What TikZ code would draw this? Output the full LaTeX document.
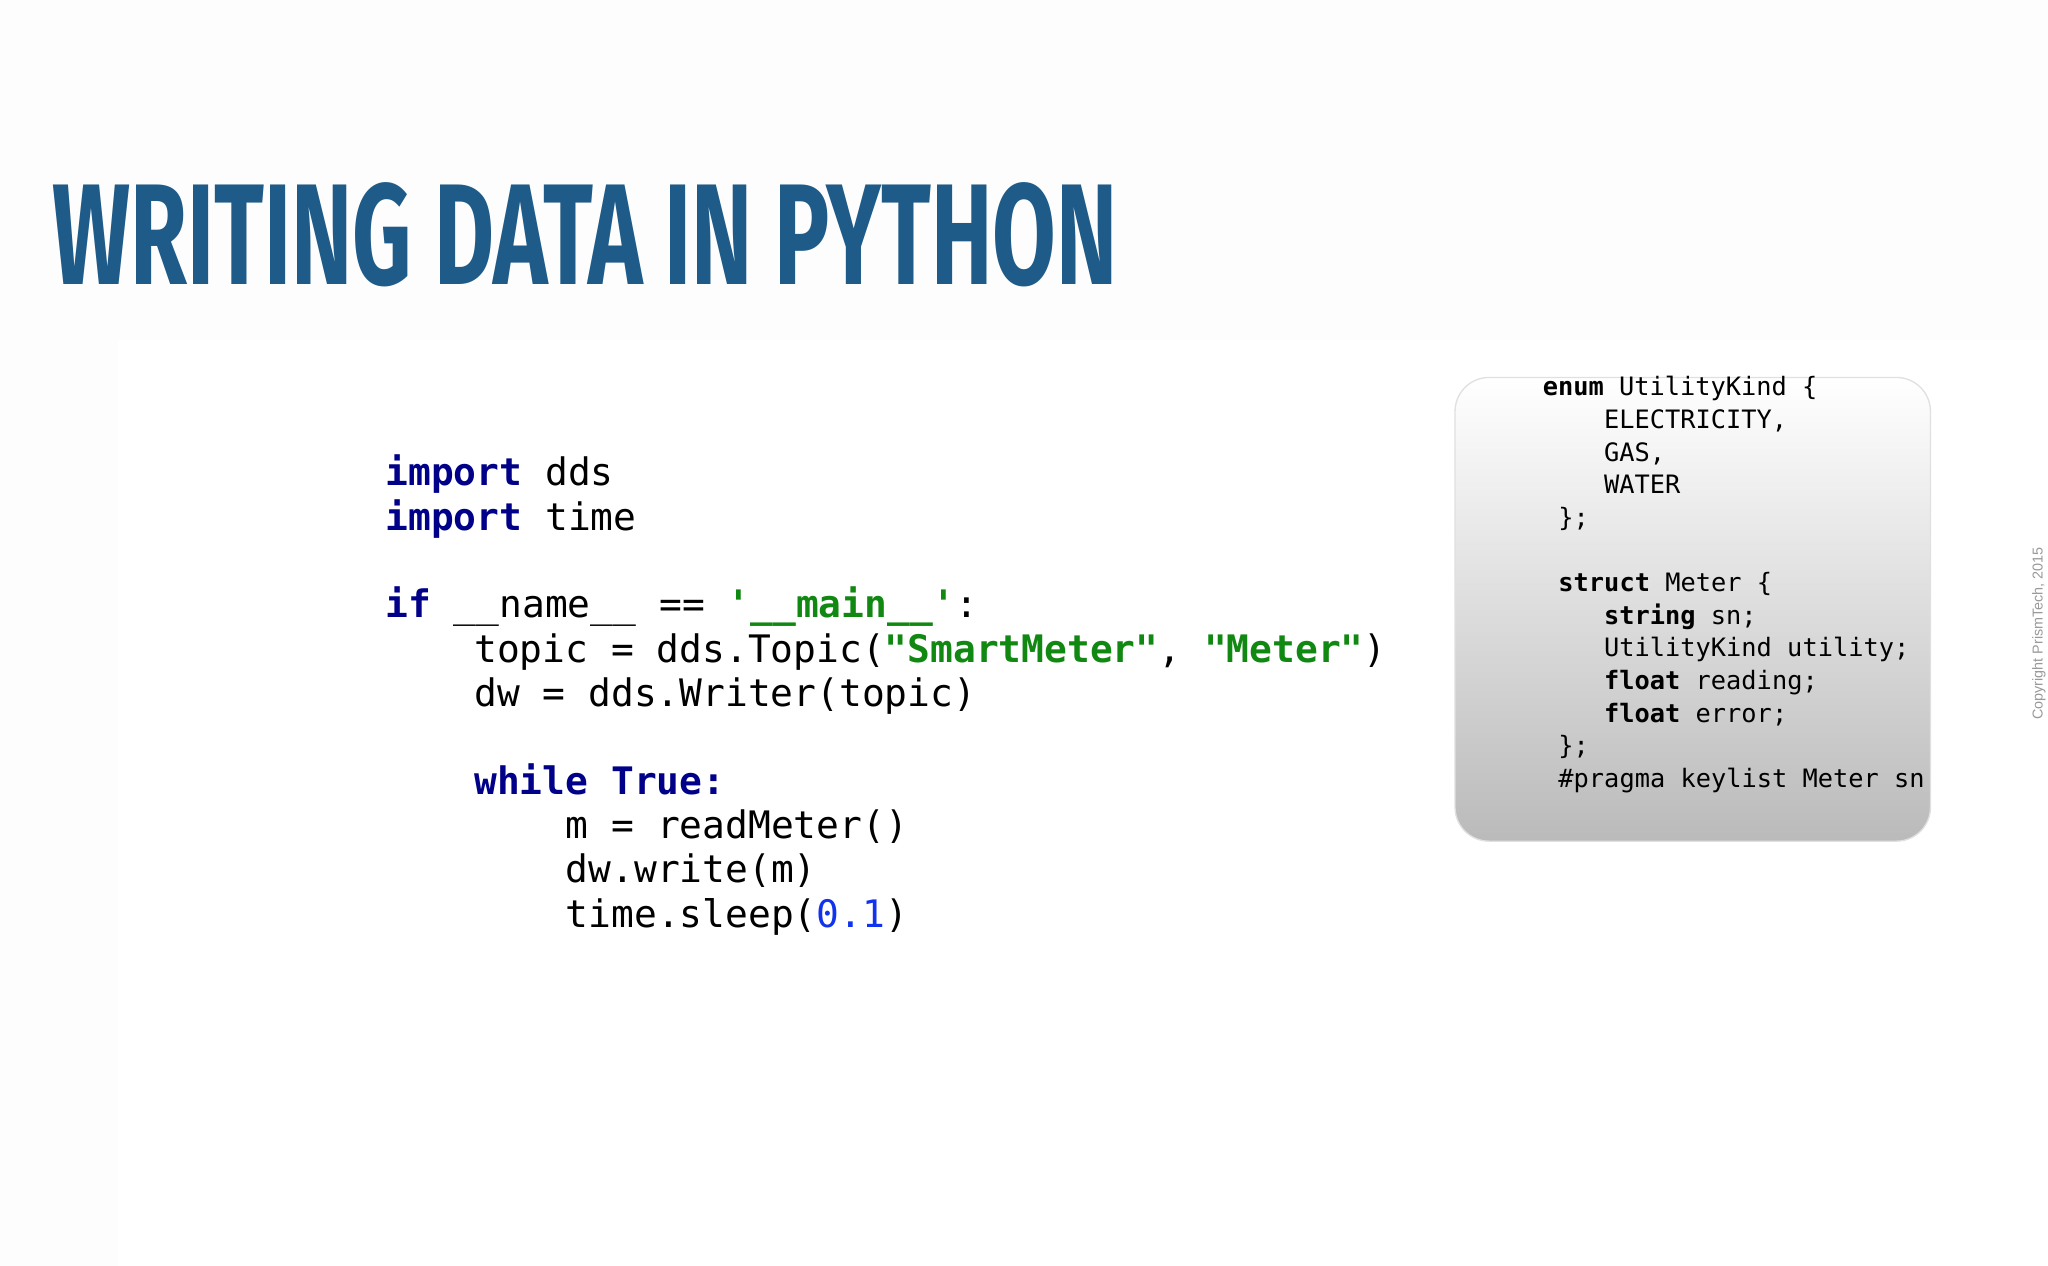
\documentclass[tikz,border=0pt]{standalone}
\usepackage{fontspec}
\newfontfamily\mono{DejaVu Sans Mono}
\newfontfamily\titlefont{Fira Sans}
\newfontfamily\cfont{Liberation Sans}
\definecolor{ttl}{HTML}{1E5B88}
\definecolor{kw}{HTML}{000088}
\definecolor{str}{HTML}{118811}
\definecolor{num}{HTML}{1133EE}
\newcommand{\sq}{\symbol{39}}
\newcommand{\dq}{\symbol{34}}
\tikzset{
 code/.style={anchor=base west,inner sep=0pt,font=\mono\fontsize{29}{29}\selectfont},
 small/.style={anchor=base west,inner sep=0pt,font=\mono\fontsize{19.4}{19.4}\selectfont}
}
\begin{document}
\begin{tikzpicture}[x=1pt,y=-1pt]
\fill[white!99.2!black] (0,0) rectangle (1568,969);
\fill[white] (90,260) rectangle (1568,969);
\useasboundingbox (0,0) rectangle (1568,969);
\node[anchor=base west,inner sep=0pt,text=ttl] (title) at (40,218)
 {\resizebox{815pt}{78pt}{\titlefont\bfseries WRITING DATA IN PYTHON}};
% code
\node[code] (l1) at (295,372) {\textcolor{kw}{\bfseries import} dds};
\node[code] (l2) at (295,406) {\textcolor{kw}{\bfseries import} time};
\node[code] (l3) at (295,473) {\textcolor{kw}{\bfseries if} \_\_name\_\_ == \textcolor{str}{\bfseries\sq\_\_main\_\_\sq}:};
\node[code] (l4) at (363,507) {topic = dds.Topic(\textcolor{str}{\bfseries\dq SmartMeter\dq}, \textcolor{str}{\bfseries\dq Meter\dq})};
\node[code] (l5) at (363,541) {dw = dds.Writer(topic)};
\node[code] (l6) at (363,608) {\textcolor{kw}{\bfseries while True:}};
\node[code] (l7) at (433,642) {m = readMeter()};
\node[code] (l8) at (433,676) {dw.write(m)};
\node[code] (l9) at (433,710) {time.sleep(\textcolor{num}{0.1})};
% box
\shade[top color=white,bottom color=black!27,rounded corners=26pt,draw=black!12,line width=1pt]
 (1114,289) rectangle (1478,644);
\node[small] (b1) at (1181,303) {\bfseries enum\mdseries{} UtilityKind \{};
\node[small] (b2) at (1228,328) {ELECTRICITY,};
\node[small] (b3) at (1228,353) {GAS,};
\node[small] (b4) at (1228,378) {WATER};
\node[small] (b5) at (1193,403) {\};};
\node[small] (b6) at (1193,453) {\bfseries struct\mdseries{} Meter \{};
\node[small] (b7) at (1228,478) {\bfseries string\mdseries{} sn;};
\node[small] (b8) at (1228,503) {UtilityKind utility;};
\node[small] (b9) at (1228,528) {\bfseries float\mdseries{} reading;};
\node[small] (b10) at (1228,553) {\bfseries float\mdseries{} error;};
\node[small] (b11) at (1193,578) {\};};
\node[small] (b12) at (1193,603) {\#pragma keylist Meter sn};
\node[rotate=90,inner sep=0pt,text=black!40,font=\cfont\fontsize{11}{11}\selectfont] (copy) at (1561,485) {Copyright PrismTech, 2015};
\end{tikzpicture}
\end{document}
